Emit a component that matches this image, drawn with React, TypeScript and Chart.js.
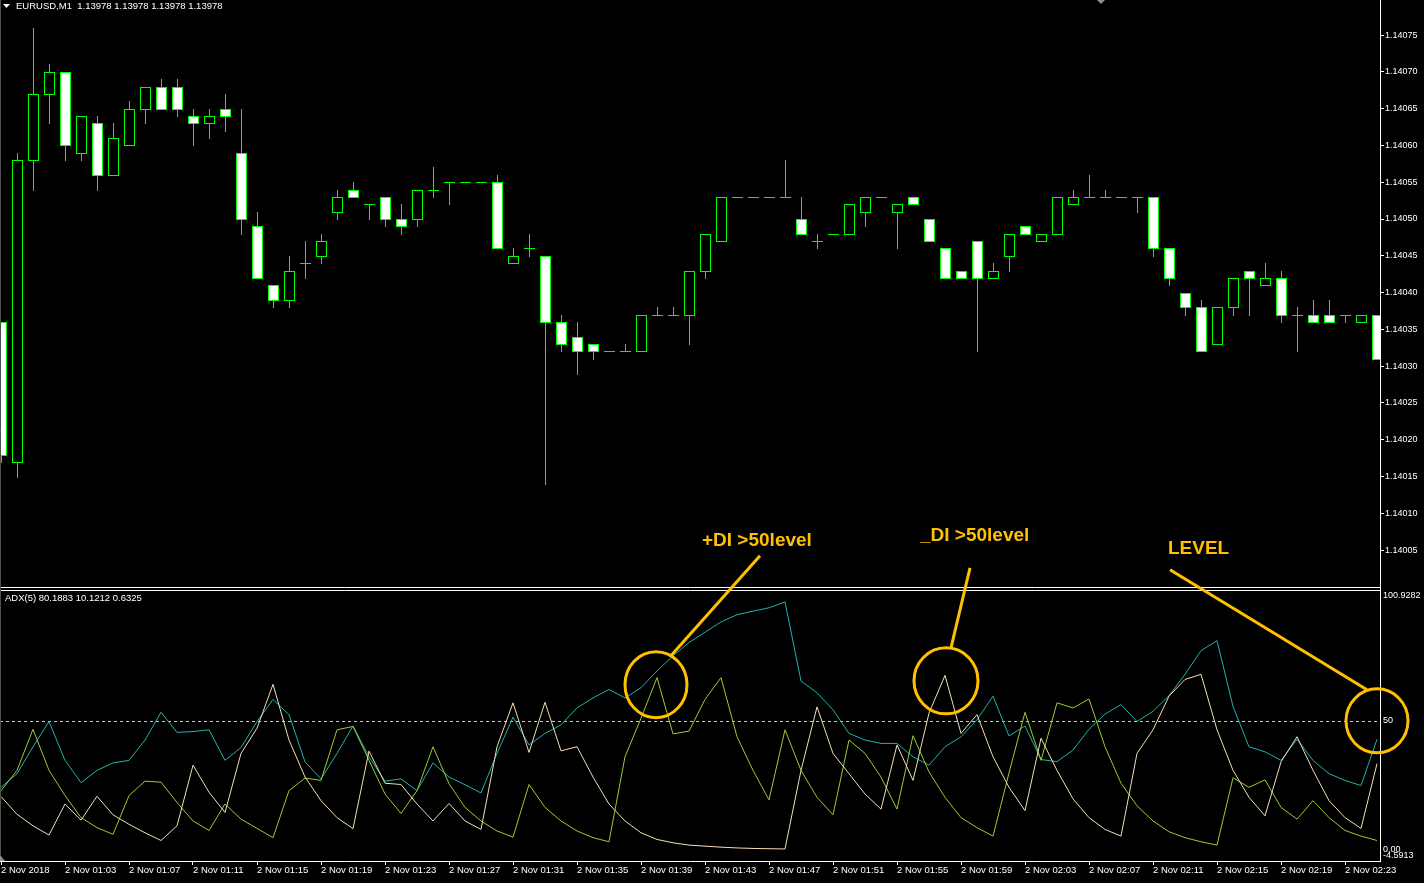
import React, { useEffect, useRef } from 'react';
import { Chart, registerables } from 'chart.js';

Chart.register(...registerables);

// ---------- DATA ----------
const times = [
  '00:59', '01:00', '01:01', '01:02', '01:03', '01:04', '01:05', '01:06', '01:07', '01:08',
  '01:09', '01:10', '01:11', '01:12', '01:13', '01:14', '01:15', '01:16', '01:17', '01:18',
  '01:19', '01:20', '01:21', '01:22', '01:23', '01:24', '01:25', '01:26', '01:27', '01:28',
  '01:29', '01:30', '01:31', '01:32', '01:33', '01:34', '01:35', '01:36', '01:37', '01:38',
  '01:39', '01:40', '01:41', '01:42', '01:43', '01:44', '01:45', '01:46', '01:47', '01:48',
  '01:49', '01:50', '01:51', '01:52', '01:53', '01:54', '01:55', '01:56', '01:57', '01:58',
  '01:59', '02:00', '02:01', '02:02', '02:03', '02:04', '02:05', '02:06', '02:07', '02:08',
  '02:09', '02:10', '02:11', '02:12', '02:13', '02:14', '02:15', '02:16', '02:17', '02:18',
  '02:19', '02:20', '02:21', '02:22', '02:23', '02:24', '02:25',
];

const opens = [
  1.14036, 1.14017, 1.14058, 1.14067, 1.14070, 1.14059, 1.14063, 1.14056, 1.14060, 1.14065,
  1.14068, 1.14068, 1.14064, 1.14063, 1.14065, 1.14059, 1.14049, 1.14041, 1.14039, 1.14044,
  1.14045, 1.14051, 1.14054, 1.14052, 1.14053, 1.14050, 1.14050, 1.14054, 1.14055, 1.14055,
  1.14055, 1.14055, 1.14044, 1.14046, 1.14045, 1.14036, 1.14034, 1.14033, 1.14032, 1.14032,
  1.14032, 1.14037, 1.14037, 1.14037, 1.14043, 1.14047, 1.14053, 1.14053, 1.14053, 1.14053,
  1.14050, 1.14047, 1.14048, 1.14048, 1.14051, 1.14053, 1.14051, 1.14053, 1.14050, 1.14046,
  1.14043, 1.14047, 1.14042, 1.14045, 1.14049, 1.14047, 1.14048, 1.14052, 1.14053, 1.14053,
  1.14053, 1.14053, 1.14053, 1.14046, 1.14040, 1.14038, 1.14033, 1.14038, 1.14043, 1.14041,
  1.14042, 1.14037, 1.14037, 1.14037, 1.14037, 1.14036, 1.14037,
];
const highs = [
  1.14036, 1.14059, 1.14076, 1.14071, 1.14070, 1.14064, 1.14064, 1.14063, 1.14066, 1.14068,
  1.14069, 1.14069, 1.14065, 1.14065, 1.14067, 1.14065, 1.14051, 1.14041, 1.14045, 1.14047,
  1.14048, 1.14054, 1.14055, 1.14052, 1.14053, 1.14052, 1.14054, 1.14057, 1.14055, 1.14055,
  1.14055, 1.14056, 1.14046, 1.14048, 1.14045, 1.14037, 1.14036, 1.14033, 1.14032, 1.14033,
  1.14037, 1.14038, 1.14038, 1.14043, 1.14048, 1.14053, 1.14053, 1.14053, 1.14053, 1.14058,
  1.14053, 1.14048, 1.14048, 1.14052, 1.14053, 1.14053, 1.14052, 1.14053, 1.14050, 1.14046,
  1.14043, 1.14047, 1.14044, 1.14048, 1.14049, 1.14048, 1.14053, 1.14054, 1.14056, 1.14054,
  1.14053, 1.14053, 1.14053, 1.14046, 1.14040, 1.14039, 1.14038, 1.14042, 1.14043, 1.14044,
  1.14043, 1.14038, 1.14039, 1.14039, 1.14037, 1.14037, 1.14037,
];
const lows = [
  1.14017, 1.14015, 1.14054, 1.14063, 1.14058, 1.14058, 1.14054, 1.14056, 1.14060, 1.14063,
  1.14065, 1.14064, 1.14060, 1.14061, 1.14062, 1.14048, 1.14042, 1.14038, 1.14038, 1.14042,
  1.14044, 1.14050, 1.14053, 1.14050, 1.14049, 1.14048, 1.14049, 1.14053, 1.14052, 1.14055,
  1.14055, 1.14046, 1.14044, 1.14045, 1.14014, 1.14032, 1.14029, 1.14031, 1.14032, 1.14032,
  1.14032, 1.14037, 1.14037, 1.14033, 1.14042, 1.14047, 1.14053, 1.14053, 1.14053, 1.14053,
  1.14048, 1.14046, 1.14048, 1.14048, 1.14049, 1.14053, 1.14046, 1.14052, 1.14047, 1.14042,
  1.14042, 1.14032, 1.14042, 1.14043, 1.14048, 1.14047, 1.14048, 1.14052, 1.14053, 1.14053,
  1.14053, 1.14051, 1.14045, 1.14041, 1.14037, 1.14032, 1.14033, 1.14037, 1.14037, 1.14041,
  1.14036, 1.14032, 1.14036, 1.14036, 1.14036, 1.14036, 1.14031,
];
const closes = [
  1.14018, 1.14058, 1.14067, 1.14070, 1.14060, 1.14064, 1.14056, 1.14061, 1.14065, 1.14068,
  1.14065, 1.14065, 1.14063, 1.14064, 1.14064, 1.14050, 1.14042, 1.14039, 1.14043, 1.14044,
  1.14047, 1.14053, 1.14053, 1.14052, 1.14050, 1.14049, 1.14054, 1.14054, 1.14055, 1.14055,
  1.14055, 1.14046, 1.14045, 1.14046, 1.14036, 1.14033, 1.14032, 1.14032, 1.14032, 1.14032,
  1.14037, 1.14037, 1.14037, 1.14043, 1.14048, 1.14053, 1.14053, 1.14053, 1.14053, 1.14053,
  1.14048, 1.14047, 1.14048, 1.14052, 1.14053, 1.14053, 1.14052, 1.14052, 1.14047, 1.14042,
  1.14042, 1.14042, 1.14043, 1.14048, 1.14048, 1.14048, 1.14053, 1.14053, 1.14053, 1.14053,
  1.14053, 1.14053, 1.14046, 1.14042, 1.14038, 1.14032, 1.14038, 1.14042, 1.14042, 1.14042,
  1.14037, 1.14037, 1.14036, 1.14036, 1.14037, 1.14037, 1.14031,
];

const adxMain = [
  24.1, 29.4, 39.9, 49.7, 34.6, 25.9, 30.7, 33.6, 34.6, 42.5,
  53.3, 45.5, 45.8, 46.5, 34.6, 39.6, 49.7, 58.3, 52.4, 34.0,
  27.4, 37.3, 48.0, 36.0, 26.5, 27.4, 22.8, 33.6, 28.1, 25.1,
  21.9, 37.3, 51.4, 40.6, 45.1, 48.4, 55.0, 58.9, 62.2, 58.9,
  62.9, 69.4, 75.3, 80.5, 84.5, 88.5, 91.3, 92.7, 94.0, 96.3,
  65.5, 60.9, 54.3, 45.1, 42.5, 41.2, 41.2, 36.0, 32.7, 39.9,
  43.8, 50.4, 59.6, 44.1, 48.0, 34.9, 34.1, 38.6, 46.7, 52.6,
  56.3, 49.7, 53.7, 59.8, 68.1, 77.3, 81.2, 55.6, 39.9, 37.9,
  34.6, 42.8, 34.6, 29.4, 26.8, 24.8, 42.8,
];
const plusDI = [
  22.8, 30.7, 46.7, 30.7, 20.9, 12.3, 8.4, 5.8, 20.9, 26.5,
  26.1, 18.2, 11.0, 7.3, 17.6, 11.7, 8.1, 4.5, 22.8, 27.7,
  26.8, 46.5, 47.8, 34.6, 21.5, 13.9, 22.8, 39.9, 25.5, 16.3,
  11.0, 7.1, 4.7, 25.2, 16.3, 11.0, 7.1, 4.5, 2.9, 36.0,
  51.0, 66.8, 44.9, 46.0, 58.3, 66.8, 43.8, 30.7, 19.2, 46.5,
  30.7, 20.2, 13.4, 42.5, 37.3, 28.1, 15.6, 44.2, 30.1, 20.2,
  12.3, 8.4, 5.1, 29.7, 53.3, 34.6, 57.0, 55.0, 58.5, 39.9,
  25.7, 16.9, 11.0, 6.8, 4.5, 2.9, 1.6, 27.8, 24.1, 27.0,
  16.3, 11.7, 18.9, 12.3, 7.3, 5.1, 3.4,
];
const minusDI = [
  20.5, 13.6, 9.1, 5.5, 17.6, 11.3, 20.6, 13.4, 9.7, 6.4,
  3.4, 9.1, 32.7, 22.2, 14.3, 37.3, 47.1, 64.2, 42.5, 28.1,
  18.9, 12.3, 8.0, 38.2, 25.7, 25.2, 17.6, 11.0, 17.8, 11.0,
  7.7, 39.9, 57.0, 37.7, 57.2, 38.3, 39.9, 28.1, 17.6, 11.0,
  6.4, 3.8, 2.5, 1.6, 1.2, 0.8, 0.5, 0.3, 0.2, 0.1,
  30.7, 55.4, 37.3, 29.4, 21.5, 15.6, 40.6, 26.8, 53.0, 67.7,
  45.1, 52.4, 36.0, 24.1, 15.0, 43.2, 30.7, 19.6, 12.3, 7.7,
  5.1, 37.3, 46.5, 59.6, 66.1, 68.1, 46.5, 30.7, 20.2, 13.0,
  34.0, 43.8, 30.7, 18.9, 12.3, 8.1, 33.3,
];

const levels = [50];

const tickIdx = [0, 4, 8, 12, 16, 20, 24, 28, 32, 36, 40, 44, 48, 52, 56, 60, 64, 68, 72, 76, 80, 84];
const tickLabels = [
  '2 Nov 2018', '2 Nov 01:03', '2 Nov 01:07', '2 Nov 01:11', '2 Nov 01:15', '2 Nov 01:19',
  '2 Nov 01:23', '2 Nov 01:27', '2 Nov 01:31', '2 Nov 01:35', '2 Nov 01:39', '2 Nov 01:43',
  '2 Nov 01:47', '2 Nov 01:51', '2 Nov 01:55', '2 Nov 01:59', '2 Nov 02:03', '2 Nov 02:07',
  '2 Nov 02:11', '2 Nov 02:15', '2 Nov 02:19', '2 Nov 02:23',
];
const priceTicks = [
  1.14005, 1.1401, 1.14015, 1.1402, 1.14025, 1.1403, 1.14035, 1.1404,
  1.14045, 1.1405, 1.14055, 1.1406, 1.14065, 1.1407, 1.14075,
];
const adxTicks = [100.9282, 50, 0, -4.5913];

const headerText = 'EURUSD,M1  1.13978 1.13978 1.13978 1.13978';
const adxTitle = 'ADX(5) 80.1883 10.1212 0.6325';

// ---------- STYLE ----------
const FONT = '"Liberation Sans", Arial, sans-serif';
const X_FONT = { family: FONT, size: 9.5 };
const Y_FONT = { family: FONT, size: 9 };
const NOTE_COLOR = '#FFC000';

const notes = [
  { text: '+DI >50level', series: plusDI, index: 41, dx: -1, dy: 7, rx: 31, ry: 33, from: [14, -28], to: [104, -129], at: [46, -144] },
  { text: '_DI >50level', series: minusDI, index: 59, dx: 1, dy: 5.5, rx: 32, ry: 33, from: [5, -33], to: [24, -113], at: [-26, -145] },
  { text: 'LEVEL', series: null, index: 86, dx: 0, dy: 0, rx: 31, ry: 32, from: [-10, -31], to: [-207, -151], at: [-209, -172] },
];

const zeroPad = (s: any) => {
  s.paddingTop = 0;
  s.paddingBottom = 0;
  s.paddingLeft = 0;
  s.paddingRight = 0;
};

const candlePlugin = {
  id: 'candles',
  afterDatasetsDraw(chart: any) {
    const ctx = chart.ctx;
    const xs = chart.scales.x;
    const ys = chart.scales.y;
    ctx.save();
    ctx.beginPath();
    ctx.rect(xs.left, ys.top, xs.right - xs.left, ys.bottom - ys.top - 3);
    ctx.clip();
    for (let i = 0; i < opens.length; i++) {
      const x = Math.round(xs.getPixelForValue(i));
      const yo = Math.round(ys.getPixelForValue(opens[i]));
      const yc = Math.round(ys.getPixelForValue(closes[i]));
      const yh = Math.round(ys.getPixelForValue(highs[i]));
      const yl = Math.round(ys.getPixelForValue(lows[i]));
      ctx.fillStyle = '#00FF00';
      ctx.fillRect(x, yh, 1, yl - yh + 1);
      if (yo === yc) {
        ctx.fillRect(x - 5, yo, 11, 1);
      } else {
        const top = Math.min(yo, yc);
        const bot = Math.max(yo, yc);
        ctx.fillStyle = closes[i] > opens[i] ? '#000000' : '#FFFFFF';
        ctx.fillRect(x - 5, top, 11, bot - top + 1);
        ctx.strokeStyle = '#00FF00';
        ctx.lineWidth = 1;
        ctx.strokeRect(x - 4.5, top + 0.5, 10, bot - top);
      }
    }
    ctx.restore();
  },
};

const decorPlugin = {
  id: 'decor',
  beforeDatasetsDraw(chart: any) {
    const ctx = chart.ctx;
    const xs = chart.scales.x;
    const y2 = chart.scales.y2;
    ctx.save();
    ctx.strokeStyle = '#C8C8C8';
    ctx.lineWidth = 1;
    ctx.setLineDash([3, 3]);
    for (const lv of levels) {
      const y = Math.round(y2.getPixelForValue(lv)) + 0.5;
      ctx.beginPath();
      ctx.moveTo(xs.left, y);
      ctx.lineTo(xs.right, y);
      ctx.stroke();
    }
    ctx.restore();
  },
  afterDraw(chart: any) {
    const ctx = chart.ctx;
    const xs = chart.scales.x;
    const ys = chart.scales.y;
    const y2 = chart.scales.y2;
    ctx.save();
    // panel borders
    ctx.fillStyle = '#000';
    ctx.fillRect(xs.left, ys.bottom - 2, xs.right - xs.left, 2);
    ctx.strokeStyle = '#FFFFFF';
    ctx.lineWidth = 1;
    ctx.beginPath();
    ctx.moveTo(xs.left, ys.bottom - 2.5);
    ctx.lineTo(xs.right + 1, ys.bottom - 2.5);
    ctx.moveTo(xs.left, y2.top + 0.5);
    ctx.lineTo(xs.right + 1, y2.top + 0.5);
    ctx.stroke();
    // left window edge
    ctx.strokeStyle = '#505050';
    ctx.beginPath();
    ctx.moveTo(0.5, 0);
    ctx.lineTo(0.5, xs.top);
    ctx.stroke();

    // small grey markers (chart shift / scroll)
    ctx.fillStyle = '#8C8C8C';
    ctx.beginPath();
    ctx.moveTo(1097, 0);
    ctx.lineTo(1105, 0);
    ctx.lineTo(1101, 4);
    ctx.closePath();
    ctx.fill();
    ctx.beginPath();
    ctx.moveTo(0, xs.top - 6);
    ctx.lineTo(5, xs.top);
    ctx.lineTo(0, xs.top);
    ctx.closePath();
    ctx.fill();

    // header
    ctx.fillStyle = '#FFFFFF';
    ctx.beginPath();
    ctx.moveTo(3, 4);
    ctx.lineTo(10, 4);
    ctx.lineTo(6.5, 8);
    ctx.closePath();
    ctx.fill();
    ctx.font = `9.5px ${FONT}`;
    ctx.textBaseline = 'middle';
    ctx.textAlign = 'left';
    ctx.fillText(headerText, 16, 6);
    ctx.fillText(adxTitle, 5, y2.top + 8.5);

    // annotations
    ctx.strokeStyle = NOTE_COLOR;
    ctx.fillStyle = NOTE_COLOR;
    ctx.lineWidth = 3;
    ctx.font = `bold 19px ${FONT}`;
    for (const n of notes) {
      const ax = xs.getPixelForValue(n.index);
      const ay = n.series ? y2.getPixelForValue(n.series[n.index]) : y2.getPixelForValue(levels[0]);
      const cx = ax + n.dx;
      const cy = ay + n.dy;
      ctx.beginPath();
      ctx.ellipse(cx, cy, n.rx, n.ry, 0, 0, Math.PI * 2);
      ctx.stroke();
      ctx.beginPath();
      ctx.moveTo(cx + n.from[0], cy + n.from[1]);
      ctx.lineTo(cx + n.to[0], cy + n.to[1]);
      ctx.stroke();
      ctx.fillText(n.text, cx + n.at[0], cy + n.at[1]);
    }
    ctx.restore();
  },
};

export default function App() {
  const ref = useRef<HTMLCanvasElement>(null);

  useEffect(() => {
    document.body.style.margin = '0';
    document.body.style.background = '#000';
    const canvas = ref.current;
    if (!canvas) return;

    const mk = (arr: number[]) => arr.map((v, i) => ({ x: i, y: v }));

    const chart = new Chart(canvas, {
      type: 'line',
      data: {
        labels: times,
        datasets: [
          { label: '-DI', data: mk(minusDI), borderColor: '#F5DEB3', borderWidth: 1, pointRadius: 0, tension: 0, yAxisID: 'y2', xAxisID: 'x' },
          { label: '+DI', data: mk(plusDI), borderColor: '#9ACD32', borderWidth: 1, pointRadius: 0, tension: 0, yAxisID: 'y2', xAxisID: 'x' },
          { label: 'ADX', data: mk(adxMain), borderColor: '#20B2AA', borderWidth: 1, pointRadius: 0, tension: 0, yAxisID: 'y2', xAxisID: 'x' },
        ],
      } as any,
      options: {
        animation: false,
        responsive: false,
        devicePixelRatio: 1,
        events: [],
        layout: { padding: 0, autoPadding: false },
        plugins: { legend: { display: false }, tooltip: { enabled: false } },
        scales: {
          x: {
            type: 'linear',
            position: 'bottom',
            min: -0.0625,
            max: 86.1875,
            afterFit: (s: any) => { s.height = 22; zeroPad(s); },
            afterBuildTicks: (s: any) => { s.ticks = tickIdx.map((v) => ({ value: v })); },
            ticks: {
              autoSkip: false,
              maxRotation: 0,
              minRotation: 0,
              align: 'start',
              padding: 0,
              color: '#FFFFFF',
              font: X_FONT,
              callback: (v: any) => tickLabels[tickIdx.indexOf(Number(v))] ?? '',
            },
            grid: { display: true, drawOnChartArea: false, drawTicks: true, tickLength: 4, color: '#FFFFFF' },
            border: { display: true, color: '#FFFFFF' },
          },
          y: {
            type: 'linear',
            position: 'right',
            stack: 'pane',
            stackWeight: 590,
            min: 1.1399959,
            max: 1.1407976,
            afterFit: (s: any) => { s.width = 44; zeroPad(s); },
            afterBuildTicks: (s: any) => { s.ticks = priceTicks.map((v) => ({ value: v })); },
            ticks: {
              padding: 1,
              color: '#FFFFFF',
              font: Y_FONT,
              callback: (v: any) => Number(v).toFixed(5),
            },
            grid: { display: true, drawOnChartArea: false, drawTicks: true, tickLength: 4, color: '#FFFFFF' },
            border: { display: true, color: '#FFFFFF' },
          },
          y2: {
            type: 'linear',
            position: 'right',
            stack: 'pane',
            stackWeight: 271,
            min: -4.5913,
            max: 100.9282,
            afterFit: (s: any) => { s.width = 44; zeroPad(s); },
            afterBuildTicks: (s: any) => { s.ticks = adxTicks.map((v) => ({ value: v })); },
            ticks: {
              padding: -5,
              color: '#FFFFFF',
              font: Y_FONT,
              callback: (v: any) => {
                const n = Number(v);
                if (n === adxTicks[0]) return ['', String(adxTicks[0])];
                if (n === adxTicks[3]) return [String(adxTicks[3]), ''];
                if (n === 0) return '0.00';
                return String(n);
              },
            },
            grid: { display: false },
            border: { display: true, color: '#FFFFFF' },
          },
        },
      } as any,
      plugins: [candlePlugin, decorPlugin],
    });

    return () => chart.destroy();
  }, []);

  return (
    <div style={{ width: 1424, height: 883, background: '#000', position: 'relative', overflow: 'hidden' }}>
      <canvas ref={ref} width={1424} height={883} style={{ display: 'block', width: 1424, height: 883 }} />
    </div>
  );
}
